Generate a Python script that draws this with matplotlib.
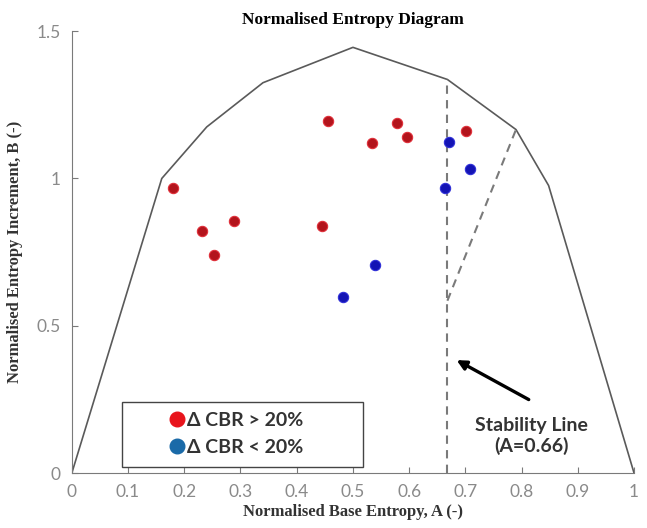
import matplotlib
matplotlib.use("Agg")
import matplotlib.pyplot as plt
from matplotlib.lines import Line2D
from matplotlib.patches import Rectangle

# boundary of the admissible region (A, B)
boundary_a = [0.0, 0.16, 0.24, 0.34, 0.50, 0.668, 0.79, 0.848, 1.0]
boundary_b = [0.0, 1.00, 1.175, 1.325, 1.445, 1.336, 1.166, 0.976, 0.0]

# stability line and the dashed diagonal
stab_a = 0.668
diag_a = [0.668, 0.79]
diag_b = [0.585, 1.166]

# dCBR > 20 %
red_a = [0.180, 0.231, 0.253, 0.289, 0.445, 0.456, 0.534, 0.578, 0.596, 0.701]
red_b = [0.968, 0.820, 0.740, 0.855, 0.840, 1.195, 1.122, 1.189, 1.140, 1.160]

# dCBR < 20 %
blue_a = [0.482, 0.540, 0.664, 0.671, 0.709]
blue_b = [0.596, 0.705, 0.968, 1.125, 1.031]

x_ticks = [0, 0.1, 0.2, 0.3, 0.4, 0.5, 0.6, 0.7, 0.8, 0.9, 1.0]
x_labels = ["0", "0.1", "0.2", "0.3", "0.4", "0.5", "0.6", "0.7", "0.8", "0.9", "1"]
y_ticks = [0, 0.5, 1.0, 1.5]
y_labels = ["0", "0.5", "1", "1.5"]

SERIF = "Liberation Serif"
SANS = "Lato"
GREY = "#7a7a7a"

fig = plt.figure(figsize=(6.47, 5.28), dpi=100)
ax = fig.add_axes([0.111, 0.104, 0.869, 0.837])

ax.plot(boundary_a, boundary_b, color="#5a5a5a", lw=1.2, zorder=2)
ax.plot([stab_a, stab_a], [0, boundary_b[5]], color=GREY, lw=1.5, ls=(0, (4, 3)), zorder=2)
ax.plot(diag_a, diag_b, color=GREY, lw=1.5, ls=(0, (4, 3)), zorder=2)

ax.scatter(red_a, red_b, s=55, color="#b3141c", edgecolors="#e0303a", linewidths=0.8, zorder=4)
ax.scatter(blue_a, blue_b, s=55, color="#1414b4", edgecolors="#3030d8", linewidths=0.8, zorder=4)

# legend box
ax.add_patch(Rectangle((0.089, 0.02), 0.429, 0.22, fill=False, edgecolor="#444444", lw=1.0, zorder=3))
handles = [
    Line2D([], [], ls="none", marker="o", markersize=10.5, color="#e8141c"),
    Line2D([], [], ls="none", marker="o", markersize=10.5, color="#1a6aa8"),
]
leg = ax.legend(handles, ["Δ CBR > 20%", "Δ CBR < 20%"], loc="center left",
                bbox_to_anchor=(0.171, 0.133), bbox_transform=ax.transData,
                frameon=False, borderpad=0, borderaxespad=0, handlelength=0.9,
                handletextpad=0.1, labelspacing=0.5,
                prop={"family": SANS, "weight": "bold", "size": 14})
for t in leg.get_texts():
    t.set_color("#333333")

# stability line annotation
ax.annotate("", xy=(0.680, 0.388), xytext=(0.817, 0.245),
            arrowprops=dict(arrowstyle="-|>", color="black", lw=2.4, mutation_scale=14))
ax.text(0.818, 0.126, "Stability Line\n(A=0.66)", ha="center", va="center",
        family=SANS, weight="bold", size=14, color="#333333", linespacing=1.2)

ax.set_xlim(0, 1)
ax.set_ylim(0, 1.5)
ax.set_xticks(x_ticks)
ax.set_xticklabels(x_labels)
ax.set_yticks(y_ticks)
ax.set_yticklabels(y_labels)
ax.tick_params(direction="in", color=GREY, labelcolor="#8a8a8a", length=4, pad=8)
for lab in ax.get_xticklabels() + ax.get_yticklabels():
    lab.set_family(SANS)
    lab.set_fontsize(12.5)
for side in ["top", "right"]:
    ax.spines[side].set_visible(False)
for side in ["left", "bottom"]:
    ax.spines[side].set_color(GREY)

ax.set_title("Normalised Entropy Diagram", family=SERIF, weight="bold", size=12.5, pad=5)
ax.set_xlabel("Normalised Base Entropy, A (-)", family=SERIF, weight="bold", size=12,
              color="#333333", labelpad=3)
ax.set_ylabel("Normalised Entropy Increment, B (-)", family=SERIF, weight="bold", size=12,
              color="#333333", labelpad=10)

fig.savefig("out.png", dpi=100)
